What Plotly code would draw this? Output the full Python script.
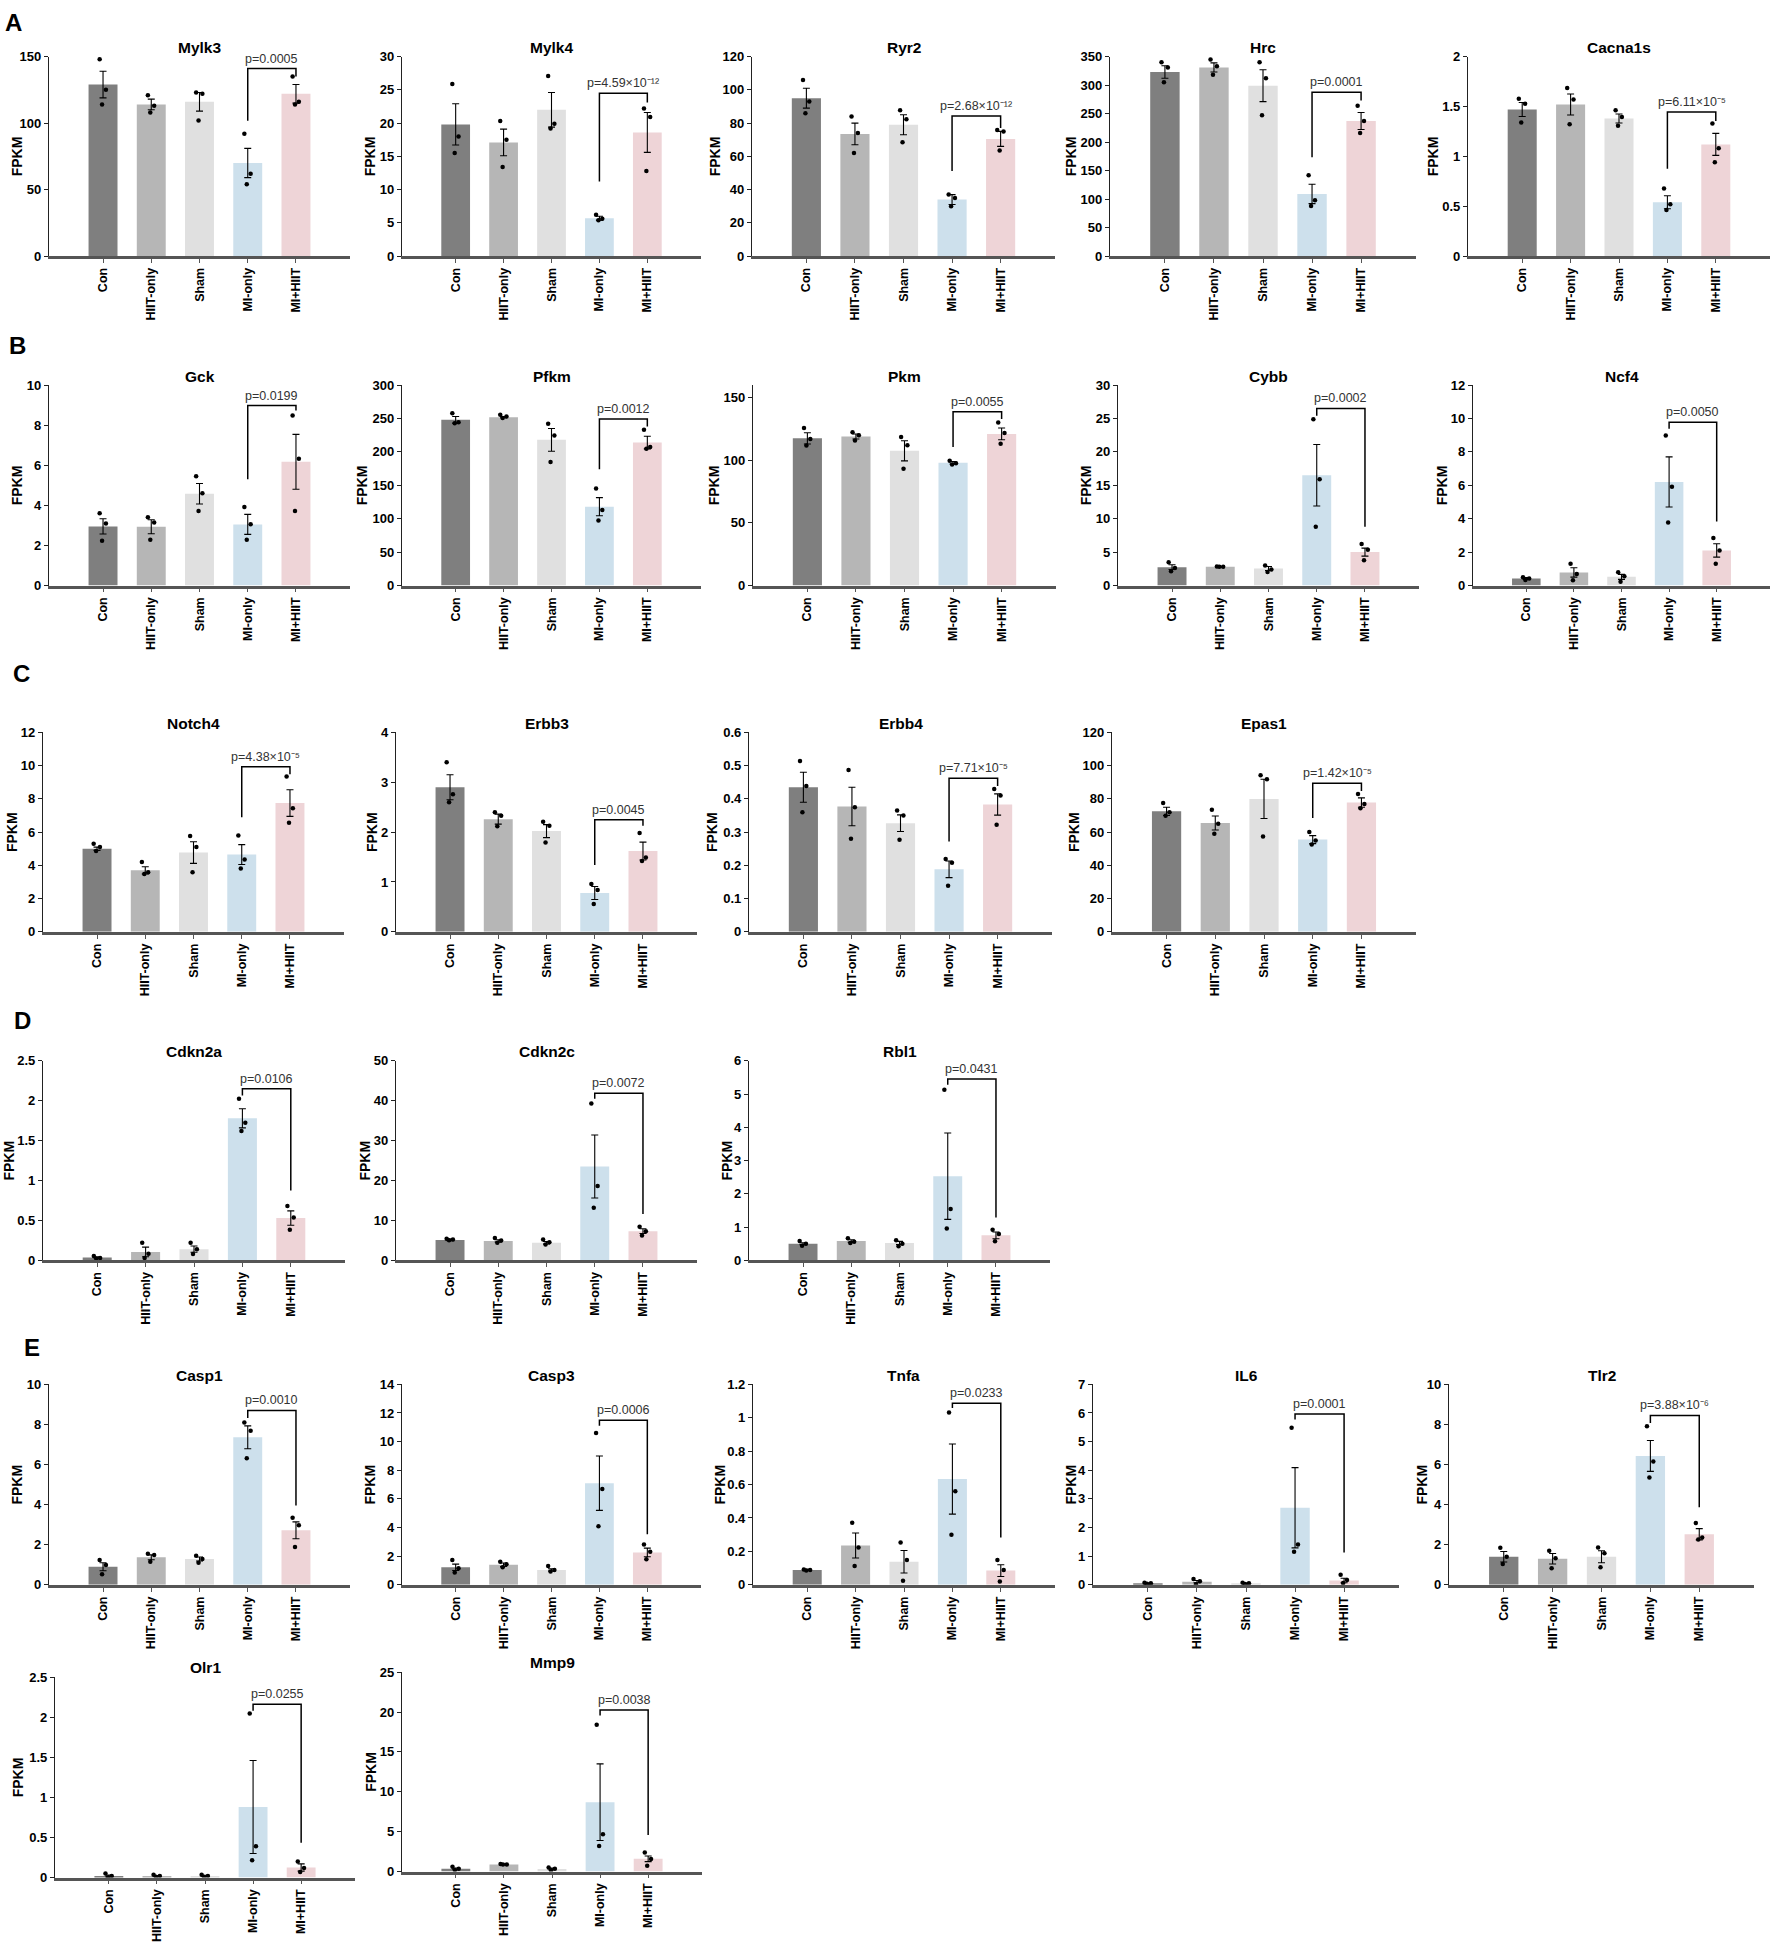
import plotly.graph_objects as go

W, H = 1772, 1953
GROUPS = ["Con", "HIIT-only", "Sham", "MI-only", "MI+HIIT"]
COLORS = ["#7f7f7f", "#b6b6b6", "#e0e0e0", "#cde0ec", "#eed4d7"]

# ---------------- data ----------------
# each gene: means, SEM, individual points, bracket [left leg end, top, right leg end], p text, y axis [max, step]
MYLK3_MEAN = [129, 114, 116, 70, 122]
MYLK3_SEM = [10, 4, 7, 11, 7]
MYLK3_PTS = [[148, 125, 114], [121, 113, 108], [123, 122, 102], [92, 62, 54], [135, 116, 114]]
MYLK3_BR = [101.7, 141, 135]
MYLK3_P = "p=0.0005"
MYLK3_Y = [150, 50]

MYLK4_MEAN = [19.8, 17.1, 22.0, 5.7, 18.6]
MYLK4_SEM = [3.1, 2.0, 2.6, 0.3, 3.0]
MYLK4_PTS = [[25.9, 18.0, 15.5], [20.3, 17.5, 13.4], [27.1, 19.9, 19.2], [6.2, 5.6, 5.4], [22.2, 20.9, 12.8]]
MYLK4_BR = [11.2, 24.5, 23.1]
MYLK4_P = "p=4.59×10⁻¹²"
MYLK4_Y = [30, 5]

RYR2_MEAN = [95, 73.5, 79, 34, 70.5]
RYR2_SEM = [6, 6.5, 6, 3, 4.5]
RYR2_PTS = [[106, 93, 86], [84, 74, 62], [87.7, 82.3, 68.5], [37, 35, 30], [75.8, 75, 63.5]]
RYR2_BR = [51.2, 84.3, 77]
RYR2_P = "p=2.68×10⁻¹²"
RYR2_Y = [120, 20]

HRC_MEAN = [323, 331, 299, 109, 237]
HRC_SEM = [11, 8, 28, 17, 15]
HRC_PTS = [[340, 331, 305], [345, 333, 318], [340, 312, 247], [142, 98, 88], [264, 237, 216]]
HRC_BR = [173.5, 287.5, 273]
HRC_P = "p=0.0001"
HRC_Y = [350, 50]

CACNA1S_MEAN = [1.47, 1.52, 1.38, 0.54, 1.12]
CACNA1S_SEM = [0.07, 0.105, 0.045, 0.065, 0.11]
CACNA1S_PTS = [[1.577, 1.527, 1.339], [1.686, 1.57, 1.322], [1.461, 1.395, 1.306], [0.678, 0.519, 0.463], [1.329, 1.081, 0.942]]
CACNA1S_BR = [0.876, 1.445, 1.355]
CACNA1S_P = "p=6.11×10⁻⁵"
CACNA1S_Y = [2, 0.5]

GCK_MEAN = [2.95, 2.93, 4.58, 3.05, 6.17]
GCK_SEM = [0.38, 0.35, 0.51, 0.5, 1.37]
GCK_PTS = [[3.6, 3.1, 2.23], [3.4, 3.14, 2.28], [5.45, 4.6, 3.72], [3.92, 3.06, 2.28], [8.48, 6.33, 3.72]]
GCK_BR = [5.3, 8.98, 8.73]
GCK_P = "p=0.0199"
GCK_Y = [10, 2]

PFKM_MEAN = [248, 252, 218, 118, 214]
PFKM_SEM = [5, 1, 17, 13.5, 9.5]
PFKM_PTS = [[257.8, 244.5, 243], [255.4, 252.9, 250.9], [242, 224.7, 185], [145.3, 113, 97.2], [233, 207.3, 204.8]]
PFKM_BR = [174, 249.4, 238]
PFKM_P = "p=0.0012"
PFKM_Y = [300, 50]

PKM_MEAN = [117.5, 119, 107.5, 98, 121]
PKM_SEM = [4.5, 2, 8, 1, 4.7]
PKM_PTS = [[125.7, 117, 111.7], [122.3, 120, 115.7], [118.5, 111.9, 93.2], [99.5, 97.5, 96.5], [130.1, 121.7, 113.2]]
PKM_BR = [110.6, 138.8, 133]
PKM_P = "p=0.0055"
PKM_Y = [160, 50]

CYBB_MEAN = [2.75, 2.8, 2.55, 16.5, 5.0]
CYBB_SEM = [0.35, 0.05, 0.3, 4.6, 0.6]
CYBB_PTS = [[3.47, 2.63, 2.13], [2.85, 2.8, 2.8], [2.98, 2.38, 2.03], [24.9, 15.9, 8.8], [6.2, 5.35, 3.8]]
CYBB_BR = [25.4, 26.5, 8.8]
CYBB_P = "p=0.0002"
CYBB_Y = [30, 5]

NCF4_MEAN = [0.42, 0.78, 0.52, 6.2, 2.1]
NCF4_SEM = [0.05, 0.28, 0.15, 1.5, 0.4]
NCF4_PTS = [[0.5, 0.42, 0.33], [1.3, 0.69, 0.32], [0.79, 0.56, 0.22], [8.98, 5.91, 3.77], [2.84, 2.1, 1.31]]
NCF4_BR = [9.38, 9.78, 3.83]
NCF4_P = "p=0.0050"
NCF4_Y = [12, 2]

NOTCH4_MEAN = [5.0, 3.7, 4.77, 4.65, 7.75]
NOTCH4_SEM = [0.1, 0.22, 0.65, 0.6, 0.8]
NOTCH4_PTS = [[5.3, 5.1, 4.87], [4.2, 3.58, 3.48], [5.76, 5.1, 3.58], [5.8, 4.35, 3.81], [9.34, 7.43, 6.56]]
NOTCH4_BR = [6.89, 9.93, 9.48]
NOTCH4_P = "p=4.38×10⁻⁵"
NOTCH4_Y = [12, 2]

ERBB3_MEAN = [2.9, 2.26, 2.02, 0.78, 1.62]
ERBB3_SEM = [0.25, 0.1, 0.13, 0.13, 0.18]
ERBB3_PTS = [[3.4, 2.76, 2.6], [2.4, 2.33, 2.12], [2.21, 2.13, 1.79], [0.96, 0.84, 0.56], [1.98, 1.49, 1.42]]
ERBB3_BR = [1.34, 2.25, 2.13]
ERBB3_P = "p=0.0045"
ERBB3_Y = [4, 1]

ERBB4_MEAN = [0.435, 0.377, 0.327, 0.188, 0.383]
ERBB4_SEM = [0.045, 0.058, 0.025, 0.025, 0.032]
ERBB4_PTS = [[0.514, 0.439, 0.36], [0.487, 0.375, 0.28], [0.365, 0.35, 0.277], [0.219, 0.208, 0.139], [0.43, 0.41, 0.322]]
ERBB4_BR = [0.272, 0.462, 0.439]
ERBB4_P = "p=7.71×10⁻⁵"
ERBB4_Y = [0.6, 0.1]

EPAS1_MEAN = [72.5, 65.5, 80, 55.5, 77.8]
EPAS1_SEM = [2.5, 4.2, 11.8, 2.4, 2.8]
EPAS1_PTS = [[77.5, 71.9, 69.9], [73.5, 65, 59], [94.2, 91.8, 57.4], [60, 55, 52.5], [82.9, 76.9, 74.3]]
EPAS1_BR = [68.5, 89.4, 84.8]
EPAS1_P = "p=1.42×10⁻⁵"
EPAS1_Y = [120, 20]

CDKN2A_MEAN = [0.035, 0.105, 0.14, 1.78, 0.53]
CDKN2A_SEM = [0.01, 0.06, 0.04, 0.12, 0.09]
CDKN2A_PTS = [[0.055, 0.03, 0.02], [0.219, 0.083, 0.029], [0.22, 0.14, 0.08], [2.025, 1.723, 1.62], [0.682, 0.537, 0.384]]
CDKN2A_BR = [2.066, 2.149, 0.876]
CDKN2A_P = "p=0.0106"
CDKN2A_Y = [2.5, 0.5]

CDKN2C_MEAN = [5.1, 4.85, 4.4, 23.5, 7.3]
CDKN2C_SEM = [0.2, 0.3, 0.3, 7.9, 0.6]
CDKN2C_PTS = [[5.4, 5.2, 5.0], [5.6, 4.96, 4.38], [5.2, 4.55, 3.97], [39.3, 18.6, 13.2], [8.43, 7.27, 6.2]]
CDKN2C_BR = [40.5, 41.9, 11.6]
CDKN2C_P = "p=0.0072"
CDKN2C_Y = [50, 10]

RBL1_MEAN = [0.5, 0.58, 0.52, 2.53, 0.75]
RBL1_SEM = [0.03, 0.04, 0.05, 1.3, 0.1]
RBL1_PTS = [[0.58, 0.5, 0.44], [0.66, 0.56, 0.52], [0.6, 0.5, 0.42], [5.13, 1.54, 0.96], [0.92, 0.79, 0.57]]
RBL1_BR = [5.28, 5.45, 1.29]
RBL1_P = "p=0.0431"
RBL1_Y = [6, 1]

CASP1_MEAN = [0.9, 1.37, 1.29, 7.36, 2.72]
CASP1_SEM = [0.2, 0.12, 0.1, 0.57, 0.42]
CASP1_PTS = [[1.24, 0.99, 0.53], [1.55, 1.48, 1.15], [1.45, 1.29, 1.1], [8.1, 7.69, 6.31], [3.34, 2.97, 1.89]]
CASP1_BR = [8.32, 8.7, 3.95]
CASP1_P = "p=0.0010"
CASP1_Y = [10, 2]

CASP3_MEAN = [1.22, 1.4, 1.04, 7.1, 2.26]
CASP3_SEM = [0.22, 0.12, 0.08, 1.9, 0.3]
CASP3_PTS = [[1.73, 1.15, 0.85], [1.61, 1.43, 1.22], [1.31, 1.04, 0.92], [10.6, 6.69, 4.08], [2.81, 2.31, 1.78]]
CASP3_BR = [11.1, 11.49, 3.53]
CASP3_P = "p=0.0006"
CASP3_Y = [14, 2]

TNFA_MEAN = [0.089, 0.235, 0.138, 0.633, 0.085]
TNFA_SEM = [0.003, 0.075, 0.067, 0.21, 0.035]
TNFA_PTS = [[0.092, 0.089, 0.086], [0.372, 0.223, 0.113], [0.253, 0.148, 0.024], [1.032, 0.56, 0.3], [0.148, 0.089, 0.02]]
TNFA_BR = [1.058, 1.087, 0.283]
TNFA_P = "p=0.0233"
TNFA_Y = [1.2, 0.2]

IL6_MEAN = [0.05, 0.11, 0.05, 2.69, 0.15]
IL6_SEM = [0.01, 0.04, 0.01, 1.4, 0.08]
IL6_PTS = [[0.07, 0.05, 0.04], [0.2, 0.12, 0.02], [0.07, 0.05, 0.03], [5.48, 1.41, 1.15], [0.35, 0.17, 0.06]]
IL6_BR = [5.77, 5.96, 1.13]
IL6_P = "p=0.0001"
IL6_Y = [7, 1]

TLR2_MEAN = [1.4, 1.3, 1.4, 6.43, 2.52]
TLR2_SEM = [0.26, 0.26, 0.3, 0.77, 0.28]
TLR2_PTS = [[1.85, 1.4, 1.04], [1.7, 1.32, 0.82], [1.86, 1.57, 0.87], [7.91, 6.15, 5.35], [3.08, 2.36, 2.26]]
TLR2_BR = [8.07, 8.45, 3.87]
TLR2_P = "p=3.88×10⁻⁶"
TLR2_Y = [10, 2]

OLR1_MEAN = [0.02, 0.02, 0.02, 0.88, 0.125]
OLR1_SEM = [0.01, 0.005, 0.008, 0.58, 0.045]
OLR1_PTS = [[0.05, 0.02, 0.0], [0.035, 0.02, 0.01], [0.035, 0.02, 0.005], [2.045, 0.39, 0.215], [0.2, 0.12, 0.07]]
OLR1_BR = [2.08, 2.161, 0.434]
OLR1_P = "p=0.0255"
OLR1_Y = [2.5, 0.5]

MMP9_MEAN = [0.35, 0.9, 0.33, 8.7, 1.6]
MMP9_SEM = [0.1, 0.05, 0.1, 4.8, 0.35]
MMP9_PTS = [[0.6, 0.35, 0.2], [0.95, 0.9, 0.88], [0.5, 0.35, 0.15], [18.4, 4.67, 3.22], [2.4, 1.57, 0.74]]
MMP9_BR = [19.55, 20.25, 4.59]
MMP9_P = "p=0.0038"
MMP9_Y = [25, 5]

# ---------------- panel layout (page pixel geometry) ----------------
# (name, mean, sem, pts, bracket, p, yaxis, left, right, top, bottom, title_y, fpkm_x)
PANELS = [
    ("Mylk3", MYLK3_MEAN, MYLK3_SEM, MYLK3_PTS, MYLK3_BR, MYLK3_P, MYLK3_Y, 49, 350, 50, 251, 41, 17),
    ("Mylk4", MYLK4_MEAN, MYLK4_SEM, MYLK4_PTS, MYLK4_BR, MYLK4_P, MYLK4_Y, 402, 701, 50, 251, 41, 370),
    ("Ryr2", RYR2_MEAN, RYR2_SEM, RYR2_PTS, RYR2_BR, RYR2_P, RYR2_Y, 752, 1055, 50, 251, 41, 715),
    ("Hrc", HRC_MEAN, HRC_SEM, HRC_PTS, HRC_BR, HRC_P, HRC_Y, 1110, 1416, 50, 251, 41, 1071),
    ("Cacna1s", CACNA1S_MEAN, CACNA1S_SEM, CACNA1S_PTS, CACNA1S_BR, CACNA1S_P, CACNA1S_Y, 1468, 1770, 50, 251, 41, 1433),
    ("Gck", GCK_MEAN, GCK_SEM, GCK_PTS, GCK_BR, GCK_P, GCK_Y, 49, 350, 381, 583, 372, 17),
    ("Pfkm", PFKM_MEAN, PFKM_SEM, PFKM_PTS, PFKM_BR, PFKM_P, PFKM_Y, 402, 701, 381, 583, 372, 362),
    ("Pkm", PKM_MEAN, PKM_SEM, PKM_PTS, PKM_BR, PKM_P, PKM_Y, 753, 1056, 381, 583, 372, 714),
    ("Cybb", CYBB_MEAN, CYBB_SEM, CYBB_PTS, CYBB_BR, CYBB_P, CYBB_Y, 1118, 1419, 381, 583, 372, 1086),
    ("Ncf4", NCF4_MEAN, NCF4_SEM, NCF4_PTS, NCF4_BR, NCF4_P, NCF4_Y, 1473, 1770, 381, 583, 372, 1442),
    ("Notch4", NOTCH4_MEAN, NOTCH4_SEM, NOTCH4_PTS, NOTCH4_BR, NOTCH4_P, NOTCH4_Y, 43, 344, 731, 932, 722, 12),
    ("Erbb3", ERBB3_MEAN, ERBB3_SEM, ERBB3_PTS, ERBB3_BR, ERBB3_P, ERBB3_Y, 396, 697, 731, 932, 722, 372),
    ("Erbb4", ERBB4_MEAN, ERBB4_SEM, ERBB4_PTS, ERBB4_BR, ERBB4_P, ERBB4_Y, 749, 1052, 731, 932, 722, 712),
    ("Epas1", EPAS1_MEAN, EPAS1_SEM, EPAS1_PTS, EPAS1_BR, EPAS1_P, EPAS1_Y, 1112, 1416, 731, 932, 722, 1074),
    ("Cdkn2a", CDKN2A_MEAN, CDKN2A_SEM, CDKN2A_PTS, CDKN2A_BR, CDKN2A_P, CDKN2A_Y, 43, 345, 1062, 1263, 1053, 9),
    ("Cdkn2c", CDKN2C_MEAN, CDKN2C_SEM, CDKN2C_PTS, CDKN2C_BR, CDKN2C_P, CDKN2C_Y, 396, 697, 1062, 1263, 1053, 365),
    ("Rbl1", RBL1_MEAN, RBL1_SEM, RBL1_PTS, RBL1_BR, RBL1_P, RBL1_Y, 749, 1050, 1062, 1263, 1053, 727),
    ("Casp1", CASP1_MEAN, CASP1_SEM, CASP1_PTS, CASP1_BR, CASP1_P, CASP1_Y, 49, 350, 1388, 1590, 1379, 17),
    ("Casp3", CASP3_MEAN, CASP3_SEM, CASP3_PTS, CASP3_BR, CASP3_P, CASP3_Y, 402, 701, 1388, 1590, 1379, 370),
    ("Tnfa", TNFA_MEAN, TNFA_SEM, TNFA_PTS, TNFA_BR, TNFA_P, TNFA_Y, 753, 1055, 1388, 1590, 1379, 720),
    ("IL6", IL6_MEAN, IL6_SEM, IL6_PTS, IL6_BR, IL6_P, IL6_Y, 1093, 1399, 1388, 1590, 1379, 1071),
    ("Tlr2", TLR2_MEAN, TLR2_SEM, TLR2_PTS, TLR2_BR, TLR2_P, TLR2_Y, 1449, 1754, 1388, 1590, 1379, 1422),
    ("Olr1", OLR1_MEAN, OLR1_SEM, OLR1_PTS, OLR1_BR, OLR1_P, OLR1_Y, 55, 355, 1683, 1885, 1673, 18),
    ("Mmp9", MMP9_MEAN, MMP9_SEM, MMP9_PTS, MMP9_BR, MMP9_P, MMP9_Y, 402, 702, 1678, 1879, 1668, 371),
]

LETTERS = [("A", 13, 16), ("B", 17, 341), ("C", 21, 672), ("D", 22, 1021), ("E", 32, 1351)]

FONT = "Liberation Sans, Arial, sans-serif"
JIT = [-0.07, 0.06, -0.02, 0.03]


def px_x(v):
    return min(1.0, max(0.0, v / W))


def px_y(v):
    return min(1.0, max(0.0, 1 - v / H))


fig = go.Figure()
layout = {}
annotations = []

for n, (name, mean, sem, pts, br, ptxt, yax, left, right, top, bottom, ty, fx) in enumerate(PANELS, start=1):
    xr = "x" if n == 1 else f"x{n}"
    yr = "y" if n == 1 else f"y{n}"
    xs = list(range(len(GROUPS)))
    fig.add_trace(go.Bar(
        x=xs, y=mean, width=0.6, xaxis=xr, yaxis=yr,
        marker=dict(color=COLORS, line=dict(width=0)),
        error_y=dict(type="data", array=sem, color="black", thickness=1.1, width=3.5),
        showlegend=False, hoverinfo="skip"))
    ptx, pty = [], []
    for i, grp in enumerate(pts):
        for j, v in enumerate(grp):
            ptx.append(i + JIT[j % len(JIT)])
            pty.append(v)
    fig.add_trace(go.Scatter(
        x=ptx, y=pty, mode="markers", xaxis=xr, yaxis=yr,
        marker=dict(size=4.5, color="black"), showlegend=False, hoverinfo="skip"))
    lb, bt, rb = br
    fig.add_trace(go.Scatter(
        x=[3, 3, 4, 4], y=[lb, bt, bt, rb], mode="lines", xaxis=xr, yaxis=yr,
        line=dict(color="black", width=1.5), showlegend=False, hoverinfo="skip"))

    layout[f"xaxis{n}"] = dict(
        domain=[px_x(left), px_x(right)], anchor=yr, range=[-1.12, 5.12],
        tickmode="array", tickvals=xs, ticktext=GROUPS, tickangle=-90,
        tickfont=dict(family=FONT, size=12.5, color="black", weight="bold"),
        showline=True, linecolor="#555555", linewidth=2.5,
        ticks="outside", ticklen=4, tickwidth=1.2, tickcolor="#555555",
        showgrid=False, zeroline=False, fixedrange=True)
    layout[f"yaxis{n}"] = dict(
        domain=[px_y(bottom), px_y(top)], anchor=xr,
        range=[0, yax[0]], tick0=0, dtick=yax[1],
        tickfont=dict(family=FONT, size=13, color="black", weight="bold"),
        showline=True, linecolor="#222222", linewidth=1.3,
        ticks="outside", ticklen=4, tickwidth=1.2, tickcolor="#222222",
        showgrid=False, zeroline=False, fixedrange=True)

    annotations.append(dict(
        x=px_x((left + right) / 2), y=px_y(ty), xref="paper", yref="paper",
        text=f"<b>{name}</b>", showarrow=False, xanchor="center", yanchor="middle",
        font=dict(family=FONT, size=15.5, color="black")))
    annotations.append(dict(
        x=px_x(fx), y=px_y((top + bottom) / 2), xref="paper", yref="paper",
        text="<b>FPKM</b>", textangle=-90, showarrow=False,
        xanchor="center", yanchor="middle",
        font=dict(family=FONT, size=14, color="black")))
    annotations.append(dict(
        x=3.5, y=bt, xref=xr, yref=yr, text=ptxt, showarrow=False,
        xanchor="center", yanchor="bottom", yshift=1,
        font=dict(family=FONT, size=12.5, color="#333333")))

for letter, lx, ly in LETTERS:
    annotations.append(dict(
        x=px_x(lx), y=px_y(ly), xref="paper", yref="paper",
        text=f"<b>{letter}</b>", showarrow=False, xanchor="center", yanchor="middle",
        font=dict(family=FONT, size=24, color="black")))

fig.update_layout(
    width=W, height=H, margin=dict(l=0, r=0, t=0, b=0, pad=0),
    paper_bgcolor="white", plot_bgcolor="white",
    bargap=0.4, annotations=annotations, showlegend=False, **layout)

# drop the browser's default body margin so the figure sits at the page origin
fig.write_html("out.html", config={"displayModeBar": False},
               post_script="document.body.style.margin='0px';")
